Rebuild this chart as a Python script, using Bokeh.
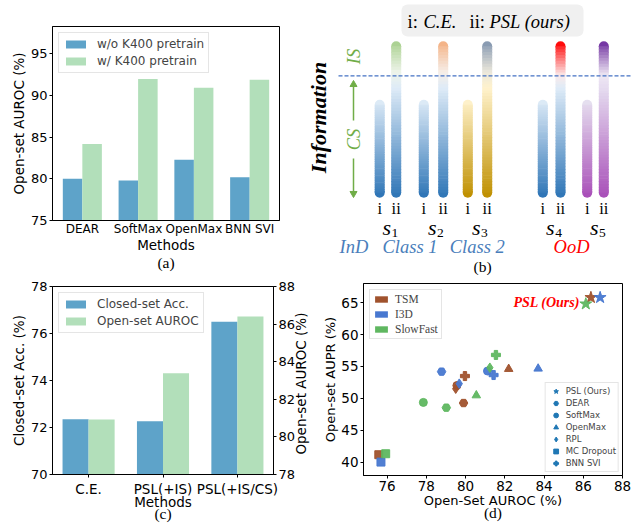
import numpy as np
from bokeh.plotting import figure
from bokeh.layouts import column, row
from bokeh.models import (Range1d, Legend, LegendItem, LinearAxis,
                          ColumnDataSource, FixedTicker, Quad)
from bokeh.core.properties import value
from bokeh.embed import file_html
from bokeh.resources import INLINE

# ---------------- data ----------------
# (a)
a_methods = ["DEAR", "SoftMax", "OpenMax", "BNN SVI"]
a_wo_k400 = [80.0, 79.8, 82.3, 80.2]
a_w_k400 = [84.2, 92.0, 90.95, 91.9]

# (c)
c_methods = ["C.E.", "PSL(+IS)", "PSL(+IS/CS)"]
c_closed_acc = [72.35, 72.27, 76.5]
c_open_auroc = [80.93, 83.38, 86.4]

# (d)
d_methods = ["PSL (Ours)", "DEAR", "SoftMax", "OpenMax", "RPL", "MC Dropout", "BNN SVI"]
d_backbones = ["TSM", "I3D", "SlowFast"]
tsm_auroc = [86.39, 79.90, 79.56, 82.20, 79.50, 75.58, 79.97]
tsm_aupr = [65.80, 49.26, 52.00, 54.60, 51.50, 41.16, 53.49]
i3d_auroc = [86.86, 78.78, 81.12, 83.70, 79.68, 75.69, 81.43]
i3d_aupr = [65.80, 54.18, 54.28, 54.65, 52.30, 40.00, 53.65]
sf_auroc = [86.13, 79.02, 77.85, 80.55, 81.24, 75.93, 81.55]
sf_aupr = [64.80, 48.53, 49.36, 50.46, 54.80, 41.31, 56.80]

# (b) schematic
b_samples = ["1", "2", "3", "4", "5"]
b_group_labels = ["InD", "Class 1", "Class 2", "OoD"]

# ---------------- styles ----------------
BLUE = "#5ea3c9"
GREEN = "#b2dfba"
BB_COLORS = {"TSM": "#a0522d", "I3D": "#4878d0", "SlowFast": "#5fb760"}
MARKERS = {"PSL (Ours)": "star", "DEAR": "hex", "SoftMax": "circle", "OpenMax": "triangle",
           "RPL": "diamond", "MC Dropout": "square", "BNN SVI": "plus"}
MSIZE = {"star": 12.5, "hex": 8.5, "circle": 8, "triangle": 8.5, "diamond": 9.5, "square": 8, "plus": 9}
SANS = "DejaVu Sans"
SERIF = "Liberation Serif"


def no_align(p):
    if "frame_align" in p.properties():
        p.frame_align = False


def style_axes(p, tick_size, label_size):
    for ax in p.axis:
        ax.major_tick_out = 3
        ax.major_tick_in = 0
        ax.minor_tick_out = 0
        ax.minor_tick_in = 0
        ax.major_label_text_font = SANS
        ax.major_label_text_font_size = tick_size
        ax.major_label_text_color = "black"
        ax.axis_label_text_font = SANS
        ax.axis_label_text_font_style = "normal"
        ax.axis_label_text_font_size = label_size
        ax.axis_label_text_color = "black"
        ax.axis_line_color = "black"
        ax.major_tick_line_color = "black"
        ax.major_label_standoff = 2
        ax.axis_label_standoff = 1
    p.xgrid.visible = False
    p.ygrid.visible = False
    p.outline_line_color = "black"
    p.outline_line_width = 1


def bare_axis(ax):
    ax.axis_line_color = None
    ax.major_tick_line_color = None
    ax.minor_tick_line_color = None
    ax.major_tick_out = 0
    ax.major_tick_in = 0
    ax.minor_tick_out = 0
    ax.minor_tick_in = 0


def caption(p, text, standoff):
    ax = LinearAxis(ticker=FixedTicker(ticks=[]), axis_label=text)
    bare_axis(ax)
    ax.major_label_standoff = 0
    ax.axis_label_text_font = SERIF
    ax.axis_label_text_font_style = "normal"
    ax.axis_label_text_font_size = "15.5px"
    ax.axis_label_text_color = "black"
    ax.axis_label_standoff = standoff
    p.add_layout(ax, "below")


def style_legend(lg, font, size, gw, gh, lh, spacing, padding, margin, standoff):
    lg.label_text_font = font
    lg.label_text_font_size = size
    lg.glyph_width = gw
    lg.glyph_height = gh
    lg.label_height = lh
    lg.spacing = spacing
    lg.padding = padding
    lg.margin = margin
    lg.label_standoff = standoff
    lg.border_line_color = "#cccccc"
    lg.border_line_width = 1
    lg.background_fill_alpha = 0.85


# ---------------- (a) ----------------
pa = figure(width=300, height=275, x_range=Range1d(-0.535, 3.535), y_range=Range1d(75, 98.3),
            output_backend="svg", toolbar_location=None,
            min_border_left=52, min_border_right=21, min_border_top=26, min_border_bottom=55)
no_align(pa)
xa = np.arange(len(a_methods))
pa.vbar(x=xa - 0.175, width=0.35, bottom=75, top=a_wo_k400, fill_color=BLUE, line_color=None,
        legend_label="w/o K400 pretrain")
pa.vbar(x=xa + 0.175, width=0.35, bottom=75, top=a_w_k400, fill_color=GREEN, line_color=None,
        legend_label="w/ K400 pretrain")
style_axes(pa, "13px", "13.5px")
pa.xaxis.ticker = FixedTicker(ticks=list(range(len(a_methods))))
pa.xaxis.major_label_overrides = {i: m for i, m in enumerate(a_methods)}
pa.xaxis.major_label_text_font_size = "12px"
pa.xaxis.major_tick_out = 0
pa.xaxis.major_label_standoff = 1
pa.xaxis.axis_label_standoff = -2
pa.yaxis.ticker = FixedTicker(ticks=[75, 80, 85, 90, 95])
pa.xaxis.axis_label = "Methods"
pa.yaxis.axis_label = "Open-set AUROC (%)"
pa.legend.location = "top_left"
style_legend(pa.legend[0], SANS, "12px", 25, 10, 14, 3, 4, 6, 9)
caption(pa, "(a)", -2)

# ---------------- (b) ----------------
pb = figure(width=340, height=275, x_range=Range1d(300, 640), y_range=Range1d(275, 0),
            x_axis_type=None, y_axis_type=None, output_backend="svg", toolbar_location=None,
            min_border=0, min_border_left=0, min_border_right=0, min_border_top=0, min_border_bottom=0)
no_align(pb)
pb.xgrid.visible = False
pb.ygrid.visible = False
pb.outline_line_color = None

B_BOTTOM = 197.3
CE_TOP = 99.3
PSL_TOP = 40.7
IS_LINE = 75.3
BAR_W = 10.0
ce_x = [379.2, 423.3, 467.3, 542.3, 586.7]
psl_x = [395.7, 442.7, 486.7, 560.0, 603.3]

blue_i = [(0, "#deebf7"), (1, "#2e75b6")]
ce_stops = [blue_i, blue_i, [(0, "#fff2cc"), (1, "#bf9000")], blue_i,
            [(0, "#e6e0f0"), (1, "#a84fb8")]]
psl_stops = [
    [(0, "#a9d08e"), (0.2, "#eef4ea"), (0.3, "#deebf7"), (1, "#2e75b6")],
    [(0, "#f4b183"), (0.2, "#f6eee8"), (0.3, "#deebf7"), (1, "#2e75b6")],
    [(0, "#8497b0"), (0.2, "#ece8dc"), (0.3, "#fff2cc"), (1, "#bf9000")],
    [(0, "#ff0000"), (0.22, "#fbeaea"), (0.3, "#deebf7"), (1, "#2e75b6")],
    [(0, "#7030a0"), (0.22, "#eee8f3"), (0.32, "#e3d8ee"), (1, "#a84fb8")],
]


def hex2rgb(h):
    h = h.lstrip("#")
    return tuple(int(h[i:i + 2], 16) for i in (0, 2, 4))


def interp(stops, t):
    for (t0, c0), (t1, c1) in zip(stops[:-1], stops[1:]):
        if t <= t1:
            f = (t - t0) / (t1 - t0) if t1 > t0 else 0.0
            a, b = hex2rgb(c0), hex2rgb(c1)
            return "#%02x%02x%02x" % tuple(int(round(a[i] + (b[i] - a[i]) * f)) for i in range(3))
    return stops[-1][1]


seg = dict(x0=[], y0=[], x1=[], y1=[], c=[])
caps = dict(x=[], y=[], c=[])
bars = [(x, CE_TOP, s) for x, s in zip(ce_x, ce_stops)] + [(x, PSL_TOP, s) for x, s in zip(psl_x, psl_stops)]
N = 50
r = BAR_W / 2
for x, top, stops in bars:
    y_start, y_end = top + r, B_BOTTOM - r
    L = y_end - y_start
    for k in range(N):
        ya = y_start + L * k / N
        yb = min(y_start + L * (k + 1) / N + 0.6, y_end)
        tm = ((ya + yb) / 2 - top) / (B_BOTTOM - top)
        seg["x0"].append(x); seg["x1"].append(x)
        seg["y0"].append(ya); seg["y1"].append(yb)
        seg["c"].append(interp(stops, tm))
    caps["x"] += [x, x]
    caps["y"] += [y_start, y_end]
    caps["c"] += [interp(stops, 0.01), interp(stops, 0.99)]

pb.scatter(x="x", y="y", source=ColumnDataSource(caps), size=BAR_W, marker="circle",
           fill_color="c", line_color=None)
pb.segment(x0="x0", y0="y0", x1="x1", y1="y1", source=ColumnDataSource(seg), line_color="c",
           line_width=BAR_W, line_cap="butt")

# dashed IS line
pb.segment(x0=[338], y0=[IS_LINE], x1=[630], y1=[IS_LINE], line_color="#4472c4",
           line_width=1.2, line_dash="4 2")

# legend box
qkw = {}
if "border_radius" in Quad.properties():
    qkw["border_radius"] = 6
pb.quad(left=[401], right=[583], top=[4], bottom=[36], fill_color="#f0f0f0", line_color=None, **qkw)
leg_y = 21
for tx, txt, st in [(407, "i:", "normal"), (423, "C.E.", "italic"), (469, "ii:", "normal"),
                    (489, "PSL (ours)", "italic")]:
    pb.text(x=[tx], y=[leg_y], text=[txt], text_font=value(SERIF), text_font_style=st,
            text_font_size="18.5px", text_baseline="middle", text_align="left", text_color="black")

# Information label and IS/CS arrow
pb.text(x=[318], y=[117], text=["Information"], angle=np.pi / 2, text_font=value(SERIF),
        text_font_style="bold italic", text_font_size="22px", text_align="center",
        text_baseline="middle", text_color="black")
GR = "#70ad47"
pb.text(x=[353], y=[56], text=["IS"], angle=np.pi / 2, text_font=value(SERIF), text_font_style="italic",
        text_font_size="18.5px", text_align="center", text_baseline="middle", text_color=GR)
pb.text(x=[353], y=[139], text=["CS"], angle=np.pi / 2, text_font=value(SERIF), text_font_style="italic",
        text_font_size="18.5px", text_align="center", text_baseline="middle", text_color=GR)
pb.segment(x0=[353, 353], y0=[84, 158], x1=[353, 353], y1=[120, 193], line_color=GR, line_width=1.5)
pb.scatter(x=[353], y=[84], marker="triangle", size=7, fill_color=GR, line_color=GR)
pb.scatter(x=[353], y=[193], marker="inverted_triangle", size=7, fill_color=GR, line_color=GR)

# i / ii labels
pb.text(x=ce_x, y=[208] * 5, text=["i"] * 5, text_font=value(SERIF), text_font_size="16.5px",
        text_align="center", text_baseline="middle", text_color="black")
pb.text(x=psl_x, y=[208] * 5, text=["ii"] * 5, text_font=value(SERIF), text_font_size="16.5px",
        text_align="center", text_baseline="middle", text_color="black")
s_cx = [(a + b) / 2 for a, b in zip(ce_x, psl_x)]
pb.text(x=[c + 3 for c in s_cx], y=[227] * 5, text=["s"] * 5, text_font=value(SERIF),
        text_font_style="italic", text_font_size="22px", text_align="right", text_baseline="middle",
        text_color="black")
pb.text(x=[c + 3.5 for c in s_cx], y=[232] * 5, text=b_samples, text_font=value(SERIF),
        text_font_size="13.5px", text_align="left", text_baseline="middle", text_color="black")

# group labels
BLT = "#4a7ebb"
for gx, lab, col in zip([353.5, 409.5, 476.7, 571.0], b_group_labels, [BLT, BLT, BLT, "#ff0000"]):
    pb.text(x=[gx], y=[246], text=[lab], text_font=value(SERIF), text_font_style="italic",
            text_font_size="18.5px", text_align="center", text_baseline="middle", text_color=col)
pb.text(x=[482], y=[266], text=["(b)"], text_font=value(SERIF), text_font_size="15.5px",
        text_align="center", text_baseline="middle", text_color="black")

# ---------------- (c) ----------------
pc = figure(width=320, height=250, x_range=Range1d(-0.485, 2.485), y_range=Range1d(70, 78),
            output_backend="svg", toolbar_location=None,
            min_border_left=52, min_border_right=41, min_border_top=11, min_border_bottom=51)
no_align(pc)
pc.extra_y_ranges = {"auroc": Range1d(78, 88)}
xc = np.arange(len(c_methods))
pc.vbar(x=xc - 0.175, width=0.35, bottom=70, top=c_closed_acc, fill_color=BLUE, line_color=None,
        legend_label="Closed-set Acc.")
pc.vbar(x=xc + 0.175, width=0.35, bottom=78, top=c_open_auroc, fill_color=GREEN, line_color=None,
        legend_label="Open-set AUROC", y_range_name="auroc")
right_ax = LinearAxis(y_range_name="auroc", ticker=FixedTicker(ticks=[78, 80, 82, 84, 86, 88]))
pc.add_layout(right_ax, "right")
style_axes(pc, "13px", "13.5px")
# right-hand axis title, reading bottom-to-top as in the original
r_mid = (pc.extra_y_ranges["auroc"].start + pc.extra_y_ranges["auroc"].end) / 2
right_lab = LinearAxis(y_range_name="auroc", ticker=FixedTicker(ticks=[r_mid]),
                       major_label_overrides={r_mid: "Open-set AUROC (%)"},
                       major_label_orientation=np.pi / 2)
bare_axis(right_lab)
right_lab.major_label_standoff = 3
right_lab.major_label_text_font = SANS
right_lab.major_label_text_font_size = "13.5px"
right_lab.major_label_text_color = "black"
pc.add_layout(right_lab, "right")

pc.yaxis[0].ticker = FixedTicker(ticks=[70, 72, 74, 76, 78])
pc.xaxis.ticker = FixedTicker(ticks=list(range(len(c_methods))))
pc.xaxis.major_label_overrides = {i: m for i, m in enumerate(c_methods)}
pc.xaxis.major_label_text_font_size = "13.5px"
pc.xaxis.major_label_standoff = 3
pc.xaxis.axis_label_standoff = -6
pc.xaxis.axis_label = "Methods"
pc.yaxis[0].axis_label = "Closed-set Acc. (%)"
pc.legend.location = "top_left"
style_legend(pc.legend[0], SANS, "12px", 25, 10, 14, 3, 4, 6, 9)
caption(pc, "(c)", -8)

# ---------------- (d) ----------------
pd_ = figure(width=320, height=250, x_range=Range1d(74.8, 88.0), y_range=Range1d(37.9, 68.0),
             output_backend="svg", toolbar_location=None,
             min_border_left=42, min_border_right=18, min_border_top=8, min_border_bottom=50)
no_align(pd_)
bb_data = {"TSM": (tsm_auroc, tsm_aupr), "I3D": (i3d_auroc, i3d_aupr), "SlowFast": (sf_auroc, sf_aupr)}
for bb in d_backbones:
    xs, ys = bb_data[bb]
    mk = [MARKERS[m] for m in d_methods]
    src = ColumnDataSource(dict(x=xs, y=ys, marker=mk, size=[MSIZE[m] for m in mk]))
    pd_.scatter(x="x", y="y", marker="marker", size="size", source=src,
                fill_color=BB_COLORS[bb], line_color=BB_COLORS[bb], fill_alpha=0.95, line_alpha=0.95)

pd_.text(x=[min(tsm_auroc[0], i3d_auroc[0], sf_auroc[0]) - 0.3], y=[65.05], text=["PSL (Ours)"],
         text_font=value(SERIF), text_font_style="bold italic", text_font_size="14px",
         text_color="red", text_align="right", text_baseline="middle")

style_axes(pd_, "13.5px", "13px")
pd_.xaxis.ticker = FixedTicker(ticks=[76, 78, 80, 82, 84, 86, 88])
pd_.yaxis.ticker = FixedTicker(ticks=[40, 45, 50, 55, 60, 65])
pd_.xaxis.major_label_standoff = 2
pd_.xaxis.axis_label_standoff = -1
pd_.yaxis.axis_label_standoff = 0
pd_.xaxis.axis_label = "Open-Set AUROC (%)"
pd_.yaxis.axis_label = "Open-set AUPR (%)"

# legend proxies (a single point outside the visible range so the legend glyph is drawn)
OFF = [0.0]
bb_items = []
for bb in d_backbones:
    rr = pd_.quad(left=OFF, right=OFF, top=OFF, bottom=OFF, fill_color=BB_COLORS[bb], line_color=None)
    bb_items.append(LegendItem(label=bb, renderers=[rr]))
lg1 = Legend(items=bb_items, location="top_left")
style_legend(lg1, SERIF, "11.5px", 16, 8, 10, 3, 3, 6, 6)
pd_.add_layout(lg1)

mk_items = []
for m in d_methods:
    rr = pd_.scatter(x=OFF, y=OFF, marker=MARKERS[m], size=MSIZE[MARKERS[m]], fill_color="#1f77b4",
                     line_color="#1f77b4")
    mk_items.append(LegendItem(label=m, renderers=[rr]))
lg2 = Legend(items=mk_items, location="bottom_right")
style_legend(lg2, SANS, "8.5px", 16, 12, 10, 0, 2, 3, 2)
pd_.add_layout(lg2)
caption(pd_, "(d)", -7)

layout = column(row(pa, pb, spacing=0), row(pc, pd_, spacing=0), spacing=0)
open("out.html", "w").write(file_html(layout, INLINE))
